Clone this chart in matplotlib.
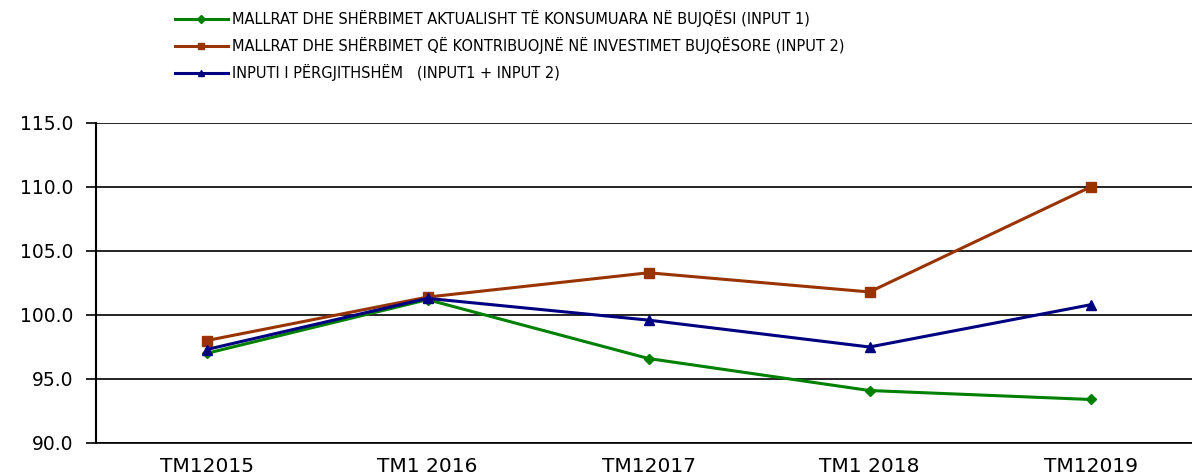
import matplotlib
matplotlib.use("Agg")
import matplotlib.pyplot as plt

categories = ["TM12015", "TM1 2016", "TM12017", "TM1 2018", "TM12019"]
input1 = [97.0, 101.2, 96.6, 94.1, 93.4]
input2 = [98.0, 101.4, 103.3, 101.8, 110.0]
total = [97.3, 101.3, 99.6, 97.5, 100.8]
labels = [
    "MALLRAT DHE SHËRBIMET AKTUALISHT TË KONSUMUARA NË BUJQËSI (INPUT 1)",
    "MALLRAT DHE SHËRBIMET QË KONTRIBUOJNË NË INVESTIMET BUJQËSORE (INPUT 2)",
    "INPUTI I PËRGJITHSHËM   (INPUT1 + INPUT 2)",
]
yticks = [90.0, 95.0, 100.0, 105.0, 110.0, 115.0]

plt.rcParams['font.family'] = ['DejaVu Sans']

fig = plt.figure(figsize=(11.92, 4.75), dpi=100)
ax = fig.add_axes([96/1192, 32/475, 1105/1192, 320/475])

x = list(range(len(categories)))
l1, = ax.plot(x, input1, color="#008000", lw=2.2, marker="D", ms=5.5, label=labels[0])
l2, = ax.plot(x, input2, color="#993300", lw=2.2, marker="s", ms=7.5, label=labels[1])
l3, = ax.plot(x, total, color="#000080", lw=2.2, marker="^", ms=7.5, label=labels[2])

ax.set_xlim(-0.5, 4.5)
ax.set_ylim(90, 115)
ax.set_yticks(yticks)
ax.set_yticklabels([f"{v:.1f}" for v in yticks], fontsize=13.5)
ax.set_xticks(x)
ax.set_xticklabels(categories, fontsize=14.5)
ax.tick_params(axis="x", length=0, pad=10)
ax.tick_params(axis="y", length=7.2, width=1.2, direction="out", pad=9)
ax.yaxis.grid(True, color="black", lw=1.2)
ax.set_axisbelow(True)
for s in ["top", "right"]:
    ax.spines[s].set_visible(False)
ax.spines["left"].set_linewidth(1.5)
ax.spines["bottom"].set_linewidth(1.2)

leg = fig.legend(handles=[l1, l2, l3], loc="upper left",
                 bbox_to_anchor=(175/1192, 1 - 10/475), frameon=False,
                 fontsize=10.5, handlelength=3.6, handletextpad=0.3,
                 labelspacing=0.68, borderaxespad=0, borderpad=0)
for h in leg.legend_handles:
    h.set_markersize(4)
    h.set_linewidth(2.2)

fig.savefig("out.png", dpi=100)
